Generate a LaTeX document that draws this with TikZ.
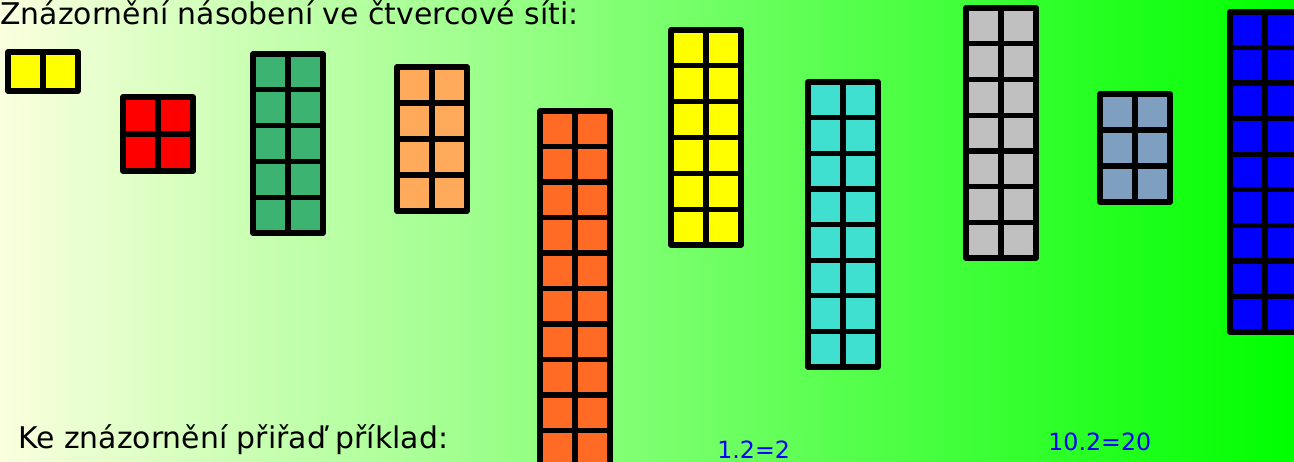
\documentclass[tikz,border=0pt]{standalone}
\usepackage{fontspec}
\setmainfont{DejaVu Sans}
\definecolor{bgleft}{HTML}{FAFFDE}
\definecolor{bgright}{HTML}{00FF00}
\definecolor{gridgreen}{HTML}{3CB371}
\definecolor{peach}{HTML}{FFAA5A}
\definecolor{orangebox}{HTML}{FF6A24}
\definecolor{turq}{HTML}{40E0D0}
\definecolor{silverbox}{HTML}{C0C0C0}
\definecolor{slate}{HTML}{7F9FC0}
\definecolor{pureyellow}{HTML}{FFFF00}

\begin{document}
\begin{tikzpicture}[x=0.02cm, y=-0.02cm,
  cell/.style={draw=black, line width=3pt, line join=round},
  caption/.style={anchor=base west, inner sep=0pt,
    font=\fontsize{17}{20}\selectfont},
  result/.style={anchor=base west, inner sep=0pt, text=blue,
    font=\fontsize{13.5}{16}\selectfont}]
  \useasboundingbox (0,0) rectangle (1294,461);
  \clip (0,0) rectangle (1294,461);
  \shade[left color=bgleft, right color=bgright] (0,0) rectangle (1294,461);
  \foreach \x/\t/\b/\n/\c in {8/52/91/1/pureyellow, 123/97/171/2/red,
    253/54/233/5/gridgreen, 397/67/211/4/peach, 540/111/466/10/orangebox,
    671/30/245/6/pureyellow, 808/82/367/8/turq, 966/8/258/7/silverbox,
    1100/94/202/3/slate, 1230/12/332/9/blue} {
    \filldraw[cell, fill=\c] (\x,\t) rectangle ({\x+70},\b);
    \draw[cell] ({\x+35},\t) -- ({\x+35},\b);
    \foreach \k in {1,...,\n}
      \draw[cell] (\x,{\t+\k*(\b-\t)/\n}) -- ({\x+70},{\t+\k*(\b-\t)/\n});
  }
  \node[caption] (title) at (0,24) {Znázornění násobení ve čtvercové síti:};
  \node[caption] (task) at (18,448) {Ke znázornění přiřaď příklad:};
  \node[result] (exA) at (717,458) {1.2=2};
  \node[result] (exB) at (1048,450) {10.2=20};
\end{tikzpicture}
\end{document}
